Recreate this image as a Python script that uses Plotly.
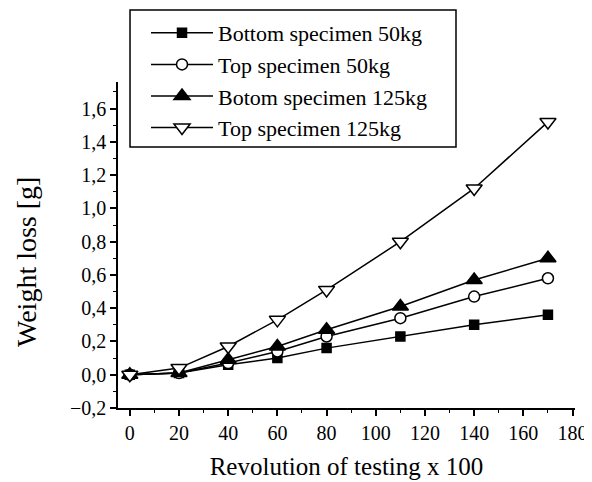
import plotly.graph_objects as go

revolutions = [0, 20, 40, 60, 80, 110, 140, 170]
bottom_50 = [0.0, 0.01, 0.06, 0.10, 0.16, 0.23, 0.30, 0.36]
top_50 = [0.0, 0.01, 0.07, 0.14, 0.23, 0.34, 0.47, 0.58]
bottom_125 = [0.0, 0.01, 0.09, 0.17, 0.27, 0.41, 0.57, 0.70]
top_125 = [0.0, 0.04, 0.17, 0.33, 0.51, 0.80, 1.12, 1.52]

series = [
    ("Bottom specimen 50kg", bottom_50, "square", "black", 9),
    ("Top specimen 50kg", top_50, "circle", "white", 11),
    ("Botom specimen 125kg", bottom_125, "triangle-up", "black", 14),
    ("Top specimen 125kg", top_125, "triangle-down", "white", 14),
]

fig = go.Figure()
for i, (name, vals, sym, fill, size) in enumerate(series):
    fig.add_trace(go.Scatter(
        x=revolutions, y=vals, name=name, mode="lines+markers",
        legendgroup=f"g{i}",
        line=dict(color="black", width=1.5),
        marker=dict(symbol=sym, size=size, color=fill,
                    line=dict(color="black", width=1.5)),
    ))

# legend frame
fig.add_shape(type="rect", xref="paper", yref="paper",
              x0=0.0263, x1=0.7396, y0=0.8006, y1=1.2209,
              line=dict(color="black", width=1.5), fillcolor="white", layer="below")

font_family = "Liberation Serif, Times New Roman, serif"

# y-axis title
fig.add_annotation(text="Weight loss [g]", xref="paper", yref="paper",
                   x=-0.199, y=0.448, xanchor="center", yanchor="middle",
                   textangle=-90, showarrow=False,
                   font=dict(family=font_family, size=28, color="black"))

fig.update_layout(
    width=584, height=474,
    margin=dict(l=110, r=17, t=74, b=74, autoexpand=False),
    paper_bgcolor="white", plot_bgcolor="rgba(0,0,0,0)",
    separators=",.",
    font=dict(family=font_family, size=20, color="black"),
    showlegend=True,
    legend=dict(
        x=0.0613, y=1.2148, xanchor="left", yanchor="top",
        bgcolor="rgba(0,0,0,0)", borderwidth=0,
        font=dict(family=font_family, size=22, color="black"),
        itemwidth=62, tracegroupgap=0, traceorder="grouped",
    ),
    xaxis=dict(
        range=[-4.8, 181], showgrid=False, zeroline=False,
        showline=True, linecolor="black", linewidth=1.5,
        tickmode="array", tickvals=list(range(0, 181, 20)),
        ticks="outside", ticklen=6, tickwidth=1.5, tickcolor="black",
        minor=dict(tickvals=list(range(10, 181, 20)), ticks="outside", ticklen=3,
                   tickwidth=1.2, tickcolor="black"),
        title=dict(text="Revolution of testing x 100", font=dict(size=25), standoff=15),
        tickfont=dict(size=20),
    ),
    yaxis=dict(
        range=[-0.2, 1.76], showgrid=False, zeroline=False,
        showline=True, linecolor="black", linewidth=1.5,
        tickmode="array", tickvals=[-0.2, 0, 0.2, 0.4, 0.6, 0.8, 1.0, 1.2, 1.4, 1.6],
        tickformat=".1f",
        ticks="outside", ticklen=6, tickwidth=1.5, tickcolor="black",
        minor=dict(tickvals=[-0.1, 0.1, 0.3, 0.5, 0.7, 0.9, 1.1, 1.3, 1.5, 1.7],
                   ticks="outside", ticklen=3, tickwidth=1.2, tickcolor="black"),
        tickfont=dict(size=20),
    ),
)

fig.write_html("out.html")
